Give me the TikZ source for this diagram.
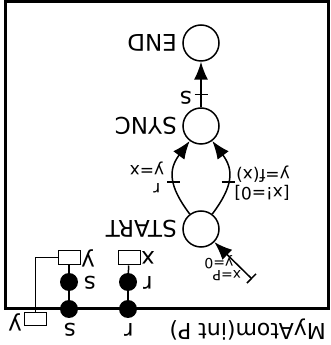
\documentclass[tikz,border=0pt]{standalone}
\usepackage{fontspec}
\setmainfont{DejaVu Sans}
\usetikzlibrary{arrows.meta}
\begin{document}
\begin{tikzpicture}[x=1pt,y=1pt,
  state/.style={circle,draw,line width=1.5pt,minimum size=36pt,inner sep=0pt},
  port/.style={circle,fill=black,minimum size=18pt,inner sep=0pt},
  varbox/.style={rectangle,draw,line width=1pt,minimum width=22pt,minimum height=14pt,inner sep=0pt},
  lbl/.style={rotate=180,inner sep=0pt,font=\fontsize{23}{26}\selectfont},
  small/.style={rotate=180,inner sep=0pt,font=\fontsize{17}{20}\selectfont},
  tiny/.style={rotate=180,inner sep=0pt,font=\fontsize{14}{16}\selectfont},
  conn/.style={line width=1.5pt},
  thin/.style={line width=1pt},
  tip/.style={-{Latex[length=18pt,width=14pt]}},
  arr/.style={line width=1.5pt,tip},
]
\useasboundingbox (0,0) rectangle (330,345);
\fill[white] (0,0) rectangle (330,345);
\draw[line width=3pt] (5,36) rectangle (328,343);
% automaton
\node[state] (END) at (201,302) {};
\node[state] (SYNC) at (201,219) {};
\node[state] (START) at (201,116) {};
\node[lbl,anchor=west] (lEND) at (177,302) {END};
\node[lbl,anchor=west] (lSYNC) at (177,219) {SYNC};
\node[lbl,anchor=west] (lSTART) at (177,116) {START};
\draw[arr] (SYNC) -- coordinate[pos=.28] (tS) (END);
\draw[conn] ([xshift=-6.5pt]tS) -- ([xshift=6.5pt]tS);
\node[lbl] (ls) at (186,247) {s};
\draw[arr] (START) to[out=127,in=233,looseness=1.25] coordinate[pos=.43] (tL) (SYNC);
\draw[conn] ([xshift=-6.5pt]tL) -- ([xshift=6.5pt]tL);
\draw[arr] (START) to[out=53,in=-53,looseness=1.25] coordinate[pos=.43] (tR) (SYNC);
\draw[conn] ([xshift=-6.5pt]tR) -- ([xshift=6.5pt]tR);
\node[small] (lr) at (157,157) {r};
\node[small] (lyx) at (147,177) {y=x};
\node[small] (lg) at (262,152) {[x!=0]};
\node[small] (lu) at (263,171) {y=f(x)};
\coordinate (init) at (252,66);
\draw[line width=1.5pt,{Bar[width=13pt]}-{Latex[length=18pt,width=14pt]}] (init) -- (START);
\node[tiny] (lxp) at (227,69) {x=P};
\node[tiny] (ly0) at (219,83) {y=0};
% ports and variables
\node[port] (ps) at (69,36) {};
\node[port] (pr) at (128,36) {};
\node[port] (is) at (69,63) {};
\node[port] (ir) at (128,63) {};
\node[varbox] (vy) at (69,87) {};
\node[varbox] (vx) at (129,87) {};
\node[varbox,minimum height=13pt] (ey) at (35,25.5) {};
\draw[conn] (ps) -- (is);
\draw[conn] (is) -- (vy);
\draw[conn] (pr) -- (ir);
\draw[conn] (ir) -- (vx);
\draw[thin] (vy.west) -| (ey.north);
\node[lbl] (lps) at (70,15) {s};
\node[lbl] (lpr) at (129,15) {r};
\node[lbl] (lis) at (90,62) {s};
\node[lbl] (lir) at (148,62) {r};
\node[lbl] (lvy) at (88,87) {y};
\node[lbl] (lvx) at (148,87) {x};
\node[lbl] (ley) at (15,23) {y};
\node[lbl,anchor=west,font=\fontsize{22}{24}\selectfont] (title) at (326,15) {MyAtom(int P)};
\end{tikzpicture}
\end{document}
